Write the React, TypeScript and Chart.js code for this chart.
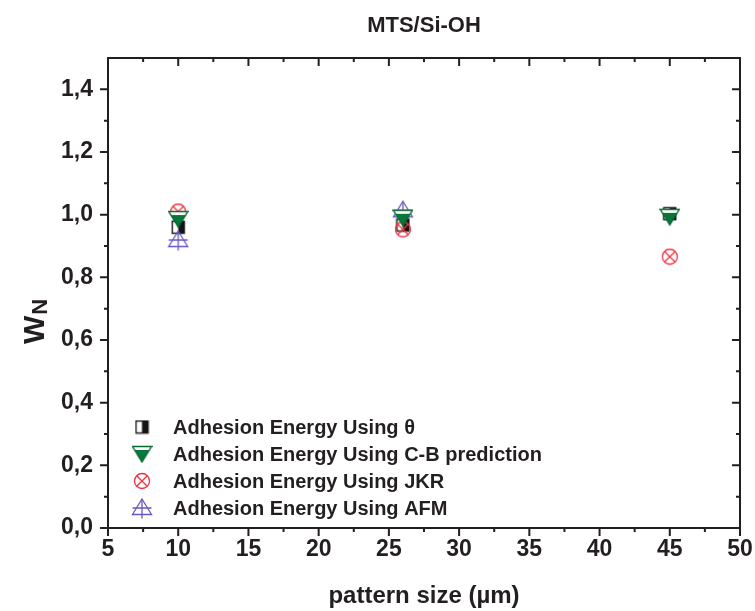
import React, { useEffect, useRef } from 'react';
import { Chart, registerables } from 'chart.js';

Chart.register(...registerables);

// ---- data ----
const patternSizes = [10, 26, 45];
const wTheta = [0.96, 0.967, 1.003];
const wCB = [0.986, 0.99, 0.993];
const wJKR = [1.01, 0.953, 0.866];
const wAFM = [0.919, 1.014, null];
const seriesLabels = [
  'Adhesion Energy Using \u03B8',
  'Adhesion Energy Using C-B prediction',
  'Adhesion Energy Using JKR',
  'Adhesion Energy Using AFM',
];
const xTickValues = [5, 10, 15, 20, 25, 30, 35, 40, 45, 50];
const yTickValues = [0, 0.2, 0.4, 0.6, 0.8, 1.0, 1.2, 1.4];
const xMinorValues = [7.5, 12.5, 17.5, 22.5, 27.5, 32.5, 37.5, 42.5, 47.5];
const yMinorValues = [0.1, 0.3, 0.5, 0.7, 0.9, 1.1, 1.3];
const titleText = 'MTS/Si-OH';
const xTitle = 'pattern size (\u00B5m)';

const FONT = '"Liberation Sans", Arial, Helvetica, sans-serif';
const INK = '#231f20';

function makeMarker(w: number, h: number, draw: (c: CanvasRenderingContext2D) => void) {
  const cv = document.createElement('canvas');
  cv.width = w;
  cv.height = h;
  const ctx = cv.getContext('2d')!;
  draw(ctx);
  return cv;
}

function markerSquare() {
  return makeMarker(15, 15, (c) => {
    c.fillStyle = '#ffffff';
    c.fillRect(1, 1, 6.5, 13);
    c.fillStyle = '#151515';
    c.fillRect(7.5, 1, 6.5, 13);
    c.strokeStyle = '#151515';
    c.lineWidth = 1.4;
    c.strokeRect(1.5, 1.5, 12, 12);
  });
}

function markerTriDown() {
  return makeMarker(21, 18, (c) => {
    c.beginPath();
    c.moveTo(1, 1.5);
    c.lineTo(20, 1.5);
    c.lineTo(10.5, 17);
    c.closePath();
    c.fillStyle = '#08783a';
    c.fill();
    c.save();
    c.clip();
    c.fillStyle = '#ffffff';
    c.fillRect(0, 0, 21, 5);
    c.restore();
    c.strokeStyle = '#066a32';
    c.lineWidth = 1.4;
    c.stroke();
  });
}

function markerCircleX() {
  return makeMarker(18, 18, (c) => {
    const r = 7.5;
    c.strokeStyle = '#ee3340';
    c.lineWidth = 1.3;
    c.beginPath();
    c.arc(9, 9, r, 0, Math.PI * 2);
    c.stroke();
    const d = r * Math.SQRT1_2;
    c.beginPath();
    c.moveTo(9 - d, 9 - d);
    c.lineTo(9 + d, 9 + d);
    c.moveTo(9 + d, 9 - d);
    c.lineTo(9 - d, 9 + d);
    c.stroke();
  });
}

function markerTriCross() {
  return makeMarker(22, 22, (c) => {
    c.strokeStyle = '#6a58c0';
    c.lineWidth = 1.3;
    c.beginPath();
    c.moveTo(11, 2);
    c.lineTo(20.5, 17.5);
    c.lineTo(1.5, 17.5);
    c.closePath();
    c.stroke();
    c.beginPath();
    c.moveTo(11, 2);
    c.lineTo(11, 21.5);
    c.moveTo(1.5, 11);
    c.lineTo(20.5, 11);
    c.stroke();
  });
}

const fmt = (v: number) => v.toFixed(1).replace('.', ',');

export default function App() {
  const ref = useRef<HTMLCanvasElement | null>(null);

  useEffect(() => {
    if (!ref.current) return;
    const markers = [markerSquare(), markerTriDown(), markerCircleX(), markerTriCross()];
    const series = [wTheta, wCB, wJKR, wAFM];
    const orders = [3, 0, 1, 2];

    const datasets = series.map((vals, i) => ({
      label: seriesLabels[i],
      data: patternSizes.map((x, j) => ({ x, y: vals[j] })),
      pointStyle: markers[i] as any,
      pointRadius: 7,
      showLine: false,
      order: orders[i],
    }));

    const decor = {
      id: 'decor',
      afterDraw(chart: any) {
        const ctx = chart.ctx as CanvasRenderingContext2D;
        const a = chart.chartArea;
        const xs = chart.scales.x;
        const ys = chart.scales.y;
        ctx.save();
        ctx.strokeStyle = INK;
        ctx.lineWidth = 2;
        ctx.lineCap = 'butt';
        // frame
        ctx.beginPath();
        ctx.rect(a.left, a.top, a.right - a.left, a.bottom - a.top);
        ctx.stroke();
        // ticks
        ctx.beginPath();
        const major = 8;
        const minor = 4;
        xTickValues.forEach((v) => {
          const p = xs.getPixelForValue(v);
          ctx.moveTo(p, a.bottom);
          ctx.lineTo(p, a.bottom + major);
          ctx.moveTo(p, a.top);
          ctx.lineTo(p, a.top + major);
        });
        xMinorValues.forEach((v) => {
          const p = xs.getPixelForValue(v);
          ctx.moveTo(p, a.bottom);
          ctx.lineTo(p, a.bottom + minor);
          ctx.moveTo(p, a.top);
          ctx.lineTo(p, a.top + minor);
        });
        yTickValues.forEach((v) => {
          const p = ys.getPixelForValue(v);
          ctx.moveTo(a.left, p);
          ctx.lineTo(a.left - major, p);
          ctx.moveTo(a.right, p);
          ctx.lineTo(a.right - major, p);
        });
        yMinorValues.forEach((v) => {
          const p = ys.getPixelForValue(v);
          ctx.moveTo(a.left, p);
          ctx.lineTo(a.left - minor, p);
          ctx.moveTo(a.right, p);
          ctx.lineTo(a.right - minor, p);
        });
        ctx.stroke();

        // title
        ctx.fillStyle = INK;
        ctx.textAlign = 'center';
        ctx.textBaseline = 'alphabetic';
        ctx.font = `bold 22px ${FONT}`;
        ctx.fillText(titleText, (a.left + a.right) / 2, 32);

        // x title
        ctx.font = `bold 24px ${FONT}`;
        ctx.fillText(xTitle, (a.left + a.right) / 2, 603);

        // y title W_N
        ctx.save();
        ctx.translate(44, 344);
        ctx.rotate(-Math.PI / 2);
        ctx.textAlign = 'left';
        ctx.font = `bold 30px ${FONT}`;
        ctx.fillText('W', 0, 0);
        const ww = ctx.measureText('W').width;
        ctx.font = `bold 22px ${FONT}`;
        ctx.fillText('N', ww + 1, 3);
        ctx.restore();

        // legend
        const rows = [427, 454, 481, 508];
        ctx.font = `bold 20px ${FONT}`;
        ctx.textAlign = 'left';
        ctx.textBaseline = 'middle';
        markers.forEach((m, i) => {
          ctx.drawImage(m, 142 - m.width / 2, rows[i] - m.height / 2);
          ctx.fillText(seriesLabels[i], 173, rows[i] + 1);
        });
        ctx.restore();
      },
    };

    const chart = new Chart(ref.current, {
      type: 'scatter',
      data: { datasets: datasets as any },
      options: {
        animation: false,
        responsive: false,
        devicePixelRatio: 1,
        layout: { padding: { top: 58, right: 15, left: 0, bottom: 0 } },
        plugins: {
          legend: { display: false },
          tooltip: { enabled: false },
          title: { display: false },
        },
        scales: {
          x: {
            type: 'linear',
            min: 5,
            max: 50,
            afterBuildTicks: (s: any) => {
              s.ticks = xTickValues.map((v) => ({ value: v }));
            },
            afterFit: (s: any) => {
              s.height = 83;
            },
            grid: { display: false, drawTicks: false },
            border: { display: false },
            ticks: {
              color: INK,
              padding: 0,
              maxRotation: 0,
              autoSkip: false,
              font: { family: FONT, size: 23, weight: 'bold', lineHeight: 1.87 },
              callback: (v: any) => String(v),
            },
          },
          y: {
            type: 'linear',
            min: 0,
            max: 1.5,
            afterBuildTicks: (s: any) => {
              s.ticks = yTickValues.map((v) => ({ value: v }));
            },
            afterFit: (s: any) => {
              s.width = 108;
            },
            grid: { display: false, drawTicks: false },
            border: { display: false },
            ticks: {
              color: INK,
              padding: 15,
              autoSkip: false,
              font: { family: FONT, size: 23, weight: 'bold', lineHeight: 1 },
              callback: (v: any) => fmt(Number(v)),
            },
          },
        },
      },
      plugins: [decor],
    });
    return () => chart.destroy();
  }, []);

  return (
    <div style={{ position: 'absolute', left: 0, top: 0, width: 755, height: 611, background: '#fff' }}>
      <canvas ref={ref} width={755} height={611} style={{ display: 'block' }} />
    </div>
  );
}
